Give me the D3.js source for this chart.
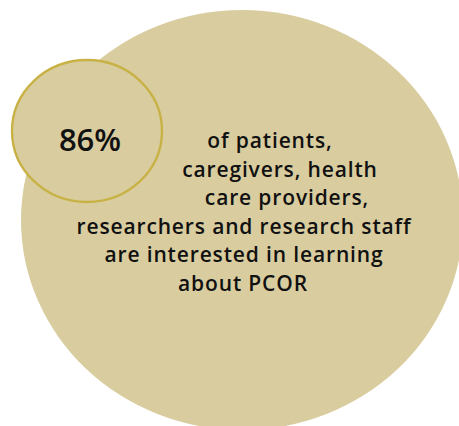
<!DOCTYPE html>
<html>
<head>
<meta charset="utf-8">
<script src="https://cdn.jsdelivr.net/npm/d3@7"></script>
<style>
    html, body { margin: 0; padding: 0; background: #fff; }
    svg { display: block; }
</style>
</head>
<body>
<div id="chart"></div>
<script>
    //Colours
    var $fill = '#d9cda0';
    var $stroke = '#c8b246';
    var $black = '#111';

    //data
    var share = [0.86];
    var statement = [
        'of patients,',
        'caregivers, health',
        'care providers,',
        'researchers and research staff',
        'are interested in learning',
        'about PCOR'
    ];

    //global variables
    var width = 459;
    var height = 426;
    var fontFamily = '"Open Sans", Lato, sans-serif';
    var formatPercent = d3.format('.0%');

    //line centres drift right on the first three lines (they wrap round the small circle)
    var lineShift = [26, 36, 43, 0, 0, -1];
    var longestWidth = 335;

    var svg = d3.select('#chart').append('svg')
        .attr('width', width)
        .attr('height', height);

    //big background circle (a little squashed in the original)
    svg.append('ellipse')
        .attr('class', 'outer')
        .attr('cx', 242)
        .attr('cy', 220)
        .attr('rx', 221)
        .attr('ry', 210)
        .style('fill', $fill);

    //small circle holding the figure
    var badge = svg.selectAll('g.badge')
        .data(share)
        .enter().append('g')
        .attr('class', 'badge')
        .attr('transform', 'translate(87,131)');

    badge.append('ellipse')
        .attr('rx', 75)
        .attr('ry', 71)
        .style('fill', $fill)
        .style('stroke', $stroke)
        .style('stroke-width', '2.4px');

    badge.append('text')
        .attr('x', 3)
        .attr('y', 20)
        .attr('text-anchor', 'middle')
        .style('font-family', fontFamily)
        .style('font-weight', 600)
        .style('font-size', '31px')
        .style('fill', $black)
        .text(function(d) {
            return formatPercent(d);
        });

    //statement text, one line per entry
    var lineY = d3.scalePoint()
        .domain(d3.range(statement.length))
        .range([148, 291]);

    var lines = svg.append('g')
        .attr('class', 'statement')
        .selectAll('text')
        .data(statement)
        .enter().append('text')
        .attr('x', function(d, i) {
            return 244 + lineShift[i];
        })
        .attr('y', function(d, i) {
            return lineY(i);
        })
        .attr('text-anchor', 'middle')
        .style('font-family', fontFamily)
        .style('font-weight', 600)
        .style('font-size', '21px')
        .style('fill', $black)
        .text(function(d) {
            return d;
        });

    //stretch the tracking so the longest line is as wide as in the original
    var longest = d3.max(lines.nodes(), function(n) { return n.getComputedTextLength(); });
    var longestChars = d3.max(statement, function(d) { return d.length; });
    var spacing = (longestWidth - longest) / longestChars;
    lines.style('letter-spacing', spacing + 'px');
</script>
</body>
</html>
